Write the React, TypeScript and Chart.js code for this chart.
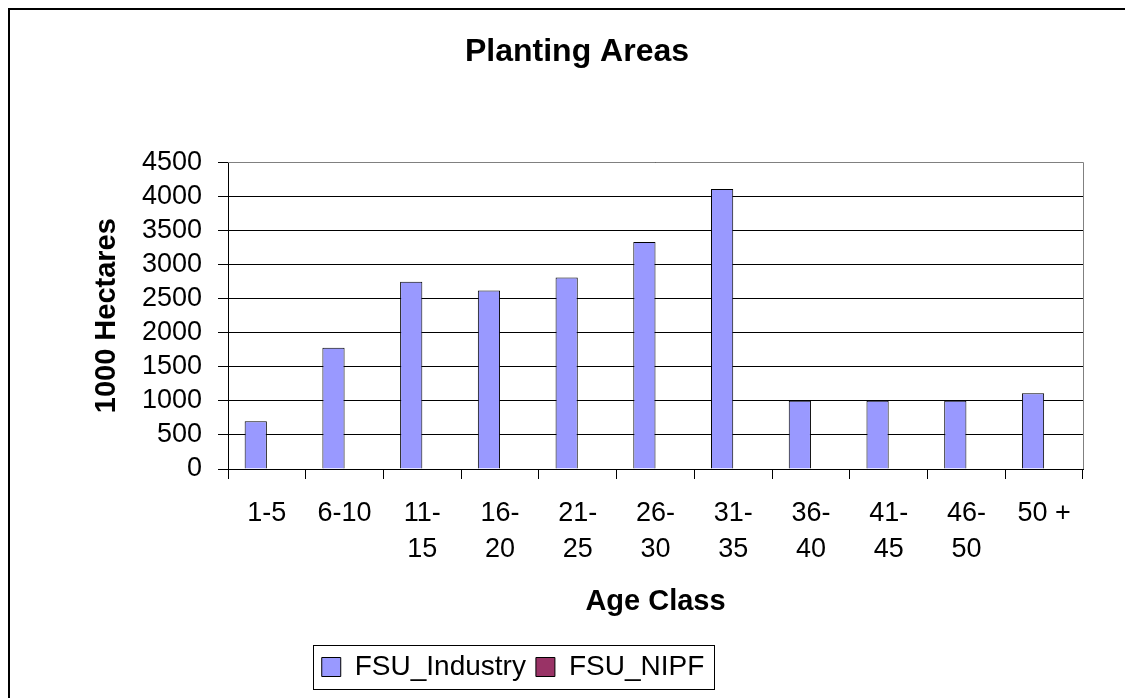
import React, { useEffect, useRef } from "react";
import { Chart, registerables } from "chart.js";

Chart.register(...registerables);

const categories: (string | string[])[] = [
  "1-5",
  "6-10",
  ["11-", "15"],
  ["16-", "20"],
  ["21-", "25"],
  ["26-", "30"],
  ["31-", "35"],
  ["36-", "40"],
  ["41-", "45"],
  ["46-", "50"],
  "50 +",
];
const industryValues: number[] = [700, 1780, 2750, 2620, 2810, 3330, 4110, 1000, 1000, 1000, 1110];
const nipfValues: (number | null)[] = [null, null, null, null, null, null, null, null, null, null, null];
const yTicks = { min: 0, max: 4500, step: 500 };

const FONT = '"Liberation Sans", Arial, sans-serif';
const W = 1134;
const H = 690;
const TITLE_CENTER_X = 567;
const LEGEND_CENTER_X = 503;

const shiftPlugin = {
  id: "shiftBoxes",
  beforeDraw(chart: any) {
    const t = chart.titleBlock;
    const l = chart.legend;
    chart.$shifts = [];
    if (t) {
      const dx = TITLE_CENTER_X - (t.left + t.right) / 2;
      t.left += dx; t.right += dx;
      chart.$shifts.push([t, dx]);
    }
    if (l) {
      const dx = LEGEND_CENTER_X - (l.left + l.right) / 2;
      l.left += dx; l.right += dx;
      chart.$shifts.push([l, dx]);
      chart.$legendDx = dx;
    }
  },
  beforeDatasetsDraw(chart: any) {
    const { ctx, chartArea } = chart;
    ctx.save();
    ctx.strokeStyle = "#808080";
    ctx.lineWidth = 1;
    ctx.beginPath();
    const top = Math.round(chartArea.top) + 0.5;
    const right = Math.round(chartArea.right) + 0.5;
    ctx.moveTo(chartArea.left, top);
    ctx.lineTo(right, top);
    ctx.lineTo(right, chartArea.bottom);
    ctx.stroke();
    ctx.restore();
  },
  afterDraw(chart: any) {
    const l = chart.legend;
    if (l && l.legendHitBoxes && l.legendHitBoxes.length) {
      const hb = l.legendHitBoxes;
      const dx = chart.$legendDx || 0;
      const first = hb[0];
      const last = hb[hb.length - 1];
      const x0 = Math.round(first.left + dx - 9) + 0.5;
      const x1 = Math.round(last.left + last.width + dx + 10) + 0.5;
      const cy = first.top + first.height / 2;
      const y0 = Math.round(cy - 22) + 0.5;
      const y1 = Math.round(cy + 22) + 0.5;
      const ctx = chart.ctx;
      ctx.save();
      ctx.strokeStyle = "#000";
      ctx.lineWidth = 1;
      ctx.strokeRect(x0, y0, x1 - x0, y1 - y0);
      ctx.restore();
    }
    (chart.$shifts || []).forEach(([box, dx]: [any, number]) => {
      box.left -= dx; box.right -= dx;
    });
    chart.$shifts = [];
  },
};

export default function App() {
  const ref = useRef<HTMLCanvasElement>(null);

  useEffect(() => {
    if (!ref.current) return;
    const chart = new Chart(ref.current, {
      type: "bar",
      data: {
        labels: categories,
        datasets: [
          {
            label: "FSU_Industry",
            data: industryValues,
            backgroundColor: "#9999FF",
            borderColor: "#000000",
            borderWidth: 1,
            categoryPercentage: 2 / 3.5,
            barPercentage: 1,
          },
          {
            label: "FSU_NIPF",
            data: nipfValues,
            backgroundColor: "#993366",
            borderColor: "#000000",
            borderWidth: 1,
            categoryPercentage: 2 / 3.5,
            barPercentage: 1,
          },
        ],
      },
      plugins: [shiftPlugin],
      options: {
        responsive: false,
        animation: false,
        events: [],
        layout: { padding: { left: 76, right: 61, top: 0, bottom: 9 } },
        plugins: {
          title: {
            display: true,
            text: "Planting Areas",
            color: "#000",
            font: { family: FONT, size: 32, weight: "bold", lineHeight: 1.2 },
            padding: { top: 23, bottom: 91 },
          },
          legend: {
            display: true,
            position: "bottom",
            labels: {
              color: "#000",
              font: { family: FONT, size: 28 },
              boxWidth: 19,
              boxHeight: 19,
              padding: 10,
            },
          },
          tooltip: { enabled: false },
        },
        scales: {
          x: {
            afterFit: (scale: any) => {
              scale.height = 174;
            },
            grid: {
              display: true,
              drawOnChartArea: false,
              drawTicks: true,
              tickLength: 10,
              color: "#000",
              offset: true,
            },
            border: { display: true, color: "#000", width: 1 },
            ticks: {
              color: "#000",
              font: { family: FONT, size: 27, lineHeight: 36 / 27 },
              padding: 17,
              maxRotation: 0,
              minRotation: 0,
              autoSkip: false,
            },
            title: {
              display: true,
              text: "Age Class",
              color: "#000",
              font: { family: FONT, size: 29, weight: "bold", lineHeight: 1.2 },
              padding: { top: 17, bottom: 24 },
            },
          },
          y: {
            min: yTicks.min,
            max: yTicks.max,
            afterFit: (scale: any) => {
              scale.width = 142;
            },
            grid: {
              display: true,
              drawOnChartArea: true,
              drawTicks: true,
              tickLength: 10,
              color: "#000",
            },
            border: { display: true, color: "#000", width: 1 },
            ticks: {
              stepSize: yTicks.step,
              autoSkip: false,
              color: "#000",
              font: { family: FONT, size: 27 },
              padding: 16,
              callback: (v: any) => String(v),
            },
            title: {
              display: true,
              text: "1000 Hectares",
              color: "#000",
              font: { family: FONT, size: 29, weight: "bold", lineHeight: 1.2 },
              padding: { top: 4, bottom: 4 },
            },
          },
        },
      },
    } as any);
    return () => chart.destroy();
  }, []);

  return (
    <div style={{ width: W, height: H, border: "2px solid #000", background: "#fff" }}>
      <canvas ref={ref} width={W} height={H} style={{ display: "block" }} />
    </div>
  );
}
